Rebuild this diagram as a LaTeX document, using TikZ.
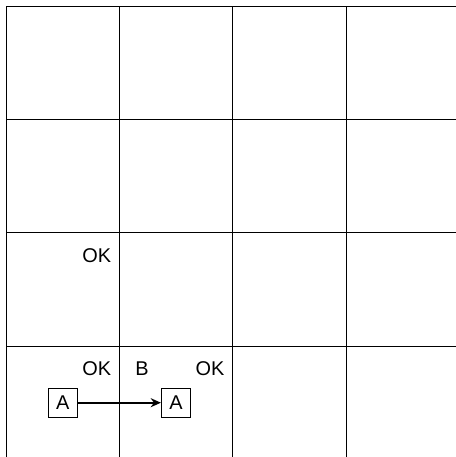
\documentclass[tikz,border=0pt]{standalone}
\usepackage{fontspec}
\setmainfont{Liberation Sans}
\usetikzlibrary{arrows.meta,positioning}

\begin{document}
\begin{tikzpicture}[
  cell/.style={font=\fontsize{10}{12}\selectfont},
  agent/.style={draw,minimum size=0.52cm,inner sep=0pt,font=\fontsize{10}{12}\selectfont},
  arrow/.style={-{Stealth[length=1.8mm,width=1.6mm]},line width=0.9pt}
]
\useasboundingbox (-0.106,0.042) rectangle (7.94,8.106);
\clip (-0.106,0.042) rectangle (7.94,8.106);
\draw[line width=0.5pt] (0,0) grid[step=2] (8,8);
\node[cell] (ok1) at (1.6,3.6) {OK};
\node[cell] (ok2) at (1.6,1.6) {OK};
\node[cell] (b) at (2.4,1.6) {B};
\node[cell] (ok3) at (3.6,1.6) {OK};
\node[agent] (a1) at (1,1) {A};
\node[agent] (a2) at (3,1) {A};
\draw[arrow] (a1)--(a2);
\end{tikzpicture}
\end{document}
